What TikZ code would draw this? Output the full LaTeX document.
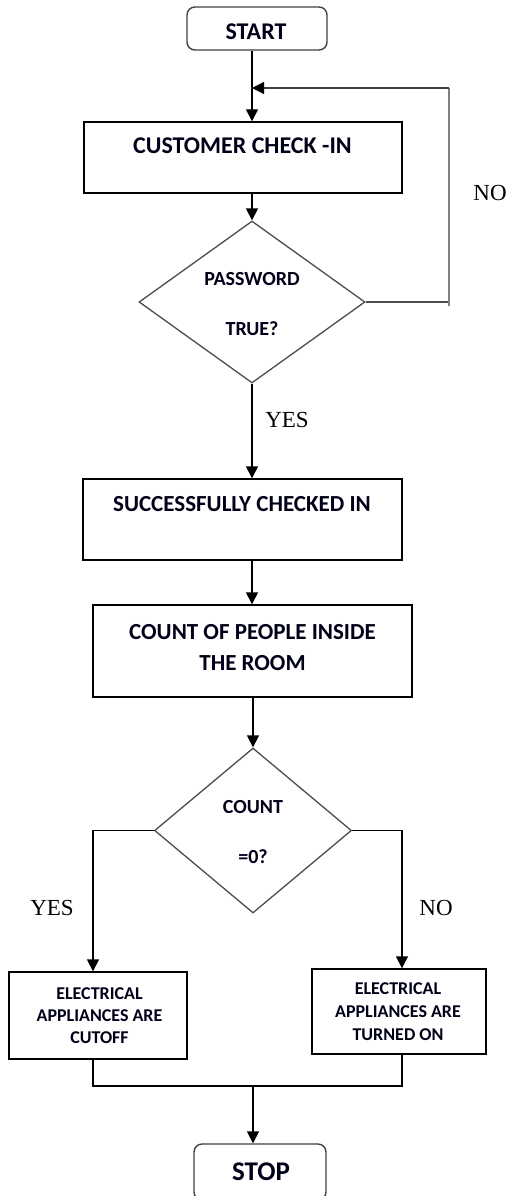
\documentclass[tikz,border=0pt]{standalone}
\usepackage{fontspec}
\setmainfont{Carlito}
\newfontfamily\serifl{Liberation Serif}
\usetikzlibrary{arrows.meta,shapes.geometric}
\begin{document}
\begin{tikzpicture}[x=1pt,y=-1pt,
  box/.style={draw=black,line width=1.4pt,rectangle,inner sep=0pt},
  term/.style={draw=black!75,line width=1.4pt,rectangle,rounded corners=8pt,inner sep=0pt},
  dia/.style={draw=black!70,line width=1.3pt,diamond,inner sep=0pt},
  btxt/.style={font=\bfseries,text=black!90!blue,inner sep=0pt,align=center},
  lbl/.style={font=\serifl,inner sep=0pt},
  ln/.style={draw=black,line width=1.4pt},
  arr/.style={ln,-{Triangle[length=12pt,width=12pt]}},
  grl/.style={draw=black!50,line width=2pt}]
\useasboundingbox (0,0) rectangle (510,1196);
% shapes
\node[term,minimum width=140pt,minimum height=43pt] (start) at (257,28.5) {};
\node[box,minimum width=318pt,minimum height=71pt] (cust) at (243,157.5) {};
\node[dia,minimum width=226pt,minimum height=162pt] (d1) at (252,302) {};
\node[box,minimum width=319pt,minimum height=81pt] (succ) at (242.5,519.5) {};
\node[box,minimum width=319pt,minimum height=92pt] (count) at (252.5,651) {};
\node[dia,minimum width=197pt,minimum height=165pt] (d2) at (253,830.5) {};
\node[box,minimum width=178pt,minimum height=87pt] (cut) at (98,1015.5) {};
\node[box,minimum width=174pt,minimum height=85pt] (on) at (399,1011.5) {};
\node[term,minimum width=132pt,minimum height=56pt] (stop) at (260,1172) {};
% texts
\node[btxt,font=\fontsize{24}{24}\selectfont\bfseries] (tstart) at (256,32) {START};
\node[btxt,font=\fontsize{24}{24}\selectfont\bfseries] (tcust) at (242.5,146) {CUSTOMER CHECK -IN};
\node[btxt,font=\fontsize{20}{20}\selectfont\bfseries] (tpass) at (252,279) {PASSWORD};
\node[btxt,font=\fontsize{20}{20}\selectfont\bfseries] (ttrue) at (252,329) {TRUE?};
\node[btxt,font=\fontsize{23}{23}\selectfont\bfseries] (tsucc) at (242,504) {SUCCESSFULLY CHECKED IN};
\node[btxt,font=\fontsize{23}{31}\selectfont\bfseries] (tcount) at (252.5,647.5) {COUNT OF PEOPLE INSIDE\\THE ROOM};
\node[btxt,font=\fontsize{20}{20}\selectfont\bfseries] (tcnt) at (253,807) {COUNT};
\node[btxt,font=\fontsize{20}{20}\selectfont\bfseries] (teq) at (253,857) {=0?};
\node[btxt,font=\fontsize{18}{22}\selectfont\bfseries] (tcut) at (99.5,1016) {ELECTRICAL\\APPLIANCES ARE\\CUTOFF};
\node[btxt,font=\fontsize{18}{23}\selectfont\bfseries] (ton) at (398,1012) {ELECTRICAL\\APPLIANCES ARE\\TURNED ON};
\node[btxt,font=\fontsize{27}{27}\selectfont\bfseries] (tstop) at (261,1172) {STOP};
\node[lbl,font=\fontsize{23}{23}\selectfont\serifl] (lno1) at (490,193) {NO};
\node[lbl,font=\fontsize{23}{23}\selectfont\serifl] (lyes1) at (287,420) {YES};
\node[lbl,font=\fontsize{23}{23}\selectfont\serifl] (lyes2) at (52,908) {YES};
\node[lbl,font=\fontsize{23}{23}\selectfont\serifl] (lno2) at (436,908) {NO};
% coordinates
\coordinate (c1) at (252,0);
\coordinate (c2) at (253,0);
\coordinate (nj) at (252,88);
\coordinate (nt) at (449,88);
\coordinate (nr) at (449,302);
\coordinate (nb) at (449,306);
\coordinate (lx) at (93,0);
\coordinate (rx) at (402,0);
\coordinate (mj) at (253,1086);
% connectors
\draw[arr] (start.south -| c1) -- (cust.north -| c1);
\draw[arr] (cust.south -| c1) -- (d1.north);
\draw[arr] (d1.south) -- (succ.north -| c1);
\draw[arr] (succ.south -| c1) -- (count.north -| c1);
\draw[arr] (count.south -| c2) -- (d2.north);
\draw[ln,draw=black!70] (d1.east) -- (nr);
\draw[grl] (nb) -- (nt);
\draw[ln,draw=black!75,-{Triangle[length=12pt,width=12pt,color=black]}] (nt) -- (nj);
\draw[arr] (d2.west) -- (d2.west -| lx) -- (cut.north -| lx);
\draw[arr] (d2.east) -- (d2.east -| rx) -- (on.north -| rx);
\draw[ln] (cut.south -| lx) -- (mj -| lx) -- (mj -| rx) -- (on.south -| rx);
\draw[arr] (mj) -- (stop.north -| mj);
\end{tikzpicture}
\end{document}
